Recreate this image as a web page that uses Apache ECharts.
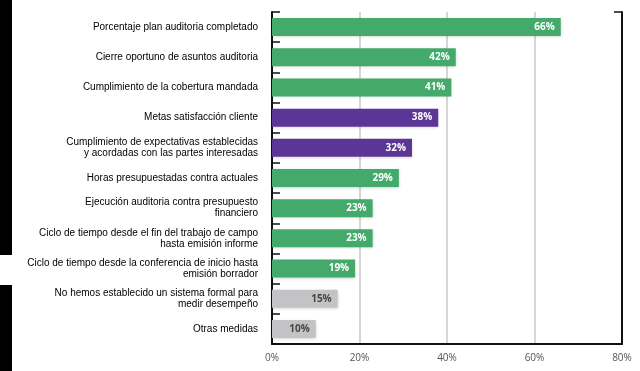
<!DOCTYPE html>
<html>
<head>
<meta charset="utf-8">
<script src="https://cdn.jsdelivr.net/npm/echarts@6/dist/echarts.min.js"></script>
<style>html,body{margin:0;padding:0;background:#fff}#c{width:640px;height:371px}</style>
</head>
<body>
<div id="c"></div>
<script>
var categories = [
  'Porcentaje plan auditoria completado',
  'Cierre oportuno de asuntos auditoria',
  'Cumplimiento de la cobertura mandada',
  'Metas satisfacción cliente',
  'Cumplimiento de expectativas establecidas\ny acordadas con las partes interesadas',
  'Horas presupuestadas contra actuales',
  'Ejecución auditoria contra presupuesto\nfinanciero',
  'Ciclo de tiempo desde el fin del trabajo de campo\nhasta emisión informe',
  'Ciclo de tiempo desde la conferencia de inicio hasta\nemisión borrador',
  'No hemos establecido un sistema formal para\nmedir desempeño',
  'Otras medidas'
];
var values = [66, 42, 41, 38, 32, 29, 23, 23, 19, 15, 10];
var groups = ['green','green','green','purple','purple','green','green','green','green','gray','gray'];
var xTicks = [0, 20, 40, 60, 80];

var colorMap = { green: '#44aa6c', purple: '#5c3696', gray: '#c3c3c5' };
var labelColorMap = { green: '#ffffff', purple: '#ffffff', gray: '#444444' };

var chart = echarts.init(document.getElementById('c'), null, { renderer: 'canvas' });
chart.setOption({
  animation: false,
  backgroundColor: '#ffffff',
  grid: { left: 272, right: 18, top: 12, bottom: 27, containLabel: false },
  graphic: [
    { type: 'rect', left: 0, top: 0, shape: { width: 12, height: 255 }, style: { fill: '#000' } },
    { type: 'rect', left: 0, top: 285, shape: { width: 12, height: 86 }, style: { fill: '#000' } }
  ],
  xAxis: {
    type: 'value',
    min: xTicks[0],
    max: xTicks[xTicks.length - 1],
    interval: xTicks[1] - xTicks[0],
    axisLine: { show: true, lineStyle: { color: '#111', width: 2 } },
    axisTick: { show: false },
    splitLine: { show: true, lineStyle: { color: '#c8c8c8', width: 1.5 } },
    axisLabel: {
      formatter: '{value}%', color: '#555', fontSize: 10,
      fontFamily: '"Open Sans", sans-serif', margin: 9
    }
  },
  yAxis: [
    {
      type: 'category',
      data: categories,
      inverse: true,
      axisLine: { show: true, lineStyle: { color: '#111', width: 2 } },
      axisTick: { show: true, inside: true, length: 8, lineStyle: { color: '#111', width: 1.5 } },
      axisLabel: {
        color: '#000', fontSize: 10, fontFamily: '"Liberation Sans", Arial, sans-serif',
        margin: 14, lineHeight: 11, align: 'right'
      }
    },
    {
      type: 'value',
      position: 'right',
      min: 0, max: 1, interval: 1,
      axisLine: { show: true, lineStyle: { color: '#111', width: 2 } },
      axisTick: { show: true, inside: true, length: 8, lineStyle: { color: '#111', width: 1.5 } },
      axisLabel: { show: false },
      splitLine: { show: false }
    }
  ],
  series: [{
    type: 'bar',
    yAxisIndex: 0,
    barWidth: 18,
    data: values.map(function (v, i) {
      return {
        value: v,
        itemStyle: { color: colorMap[groups[i]] },
        label: { color: labelColorMap[groups[i]] }
      };
    }),
    itemStyle: { shadowBlur: 3, shadowColor: 'rgba(0,0,0,0.18)', shadowOffsetY: 1 },
    label: {
      show: true, position: 'insideRight', offset: [-1, 0],
      formatter: '{c}%', fontSize: 10, fontWeight: 'bold',
      fontFamily: '"Open Sans", sans-serif'
    }
  }]
});
</script>
</body>
</html>
